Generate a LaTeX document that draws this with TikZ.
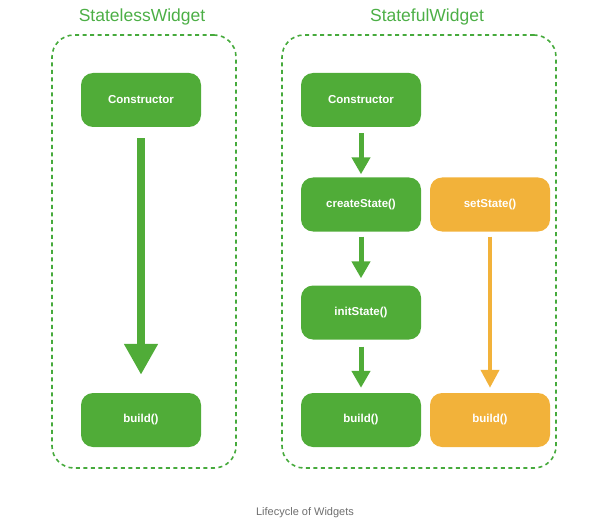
\documentclass[tikz,border=0pt]{standalone}
\usepackage{fontspec}
\setmainfont{Liberation Sans}
\usetikzlibrary{arrows.meta}
\definecolor{gbox}{RGB}{80,172,56}
\definecolor{gline}{RGB}{70,170,60}
\definecolor{obox}{RGB}{242,178,58}
\definecolor{gtitle}{RGB}{76,175,70}
\definecolor{capgray}{RGB}{110,110,110}
\tikzset{
  stagebox/.style={rectangle, rounded corners=12pt, minimum width=120pt, minimum height=54pt,
     fill=#1, draw=none, text=white, font=\bfseries\fontsize{11.5}{13}\selectfont, inner sep=0pt},
  stagebox/.default=gbox,
  group/.style={rectangle, rounded corners=22pt, draw=gline, line width=1.6pt,
     dash pattern=on 4pt off 3.5pt, inner sep=0pt},
  title/.style={text=gtitle, font=\fontsize{17.5}{20}\selectfont},
  bigarrow/.style={draw=gbox, line width=8pt, -{Triangle[width=32pt,length=31pt,fill=gbox]}},
  smallarrow/.style={draw=#1, line width=5pt, -{Triangle[width=18pt,length=17pt,fill=#1]}},
  thinarrow/.style={draw=#1, line width=4pt, -{Triangle[width=18pt,length=18pt,fill=#1]}},
}
\begin{document}
\begin{tikzpicture}[x=1pt,y=-1pt]
\useasboundingbox (0,0) rectangle (612,521);
% groups
\node[group, minimum width=184pt, minimum height=433pt] (gl) at (144,251.5) {};
\node[group, minimum width=274pt, minimum height=433pt] (gr) at (419,251.5) {};
\node[title] (tl) at (142,17) {StatelessWidget};
\node[title] (tr) at (427,17) {StatefulWidget};
% left
\node[stagebox] (c1) at (141,100) {Constructor};
\node[stagebox] (b1) at (141,420) {build()};
% right
\node[stagebox] (c2) at (361,100) {Constructor};
\node[stagebox] (cs) at (361,204.5) {createState()};
\node[stagebox] (is) at (361,312.5) {initState()};
\node[stagebox] (b2) at (361,420) {build()};
\node[stagebox=obox] (ss) at (490,204.5) {setState()};
\node[stagebox=obox] (b3) at (490,420) {build()};
% arrows
\draw[bigarrow] ([yshift=-11pt]c1.south) -- ([yshift=18pt]b1.north);
\draw[smallarrow=gbox] ([yshift=-6pt]c2.south) -- ([yshift=3pt]cs.north);
\draw[smallarrow=gbox] ([yshift=-5pt]cs.south) -- ([yshift=7pt]is.north);
\draw[smallarrow=gbox] ([yshift=-7pt]is.south) -- ([yshift=5pt]b2.north);
\draw[thinarrow=obox] ([yshift=-5pt]ss.south) -- ([yshift=5pt]b3.north);
% caption
\node[text=capgray, font=\fontsize{11}{13}\selectfont] (cap) at (305,513) {Lifecycle of Widgets};
\end{tikzpicture}
\end{document}
